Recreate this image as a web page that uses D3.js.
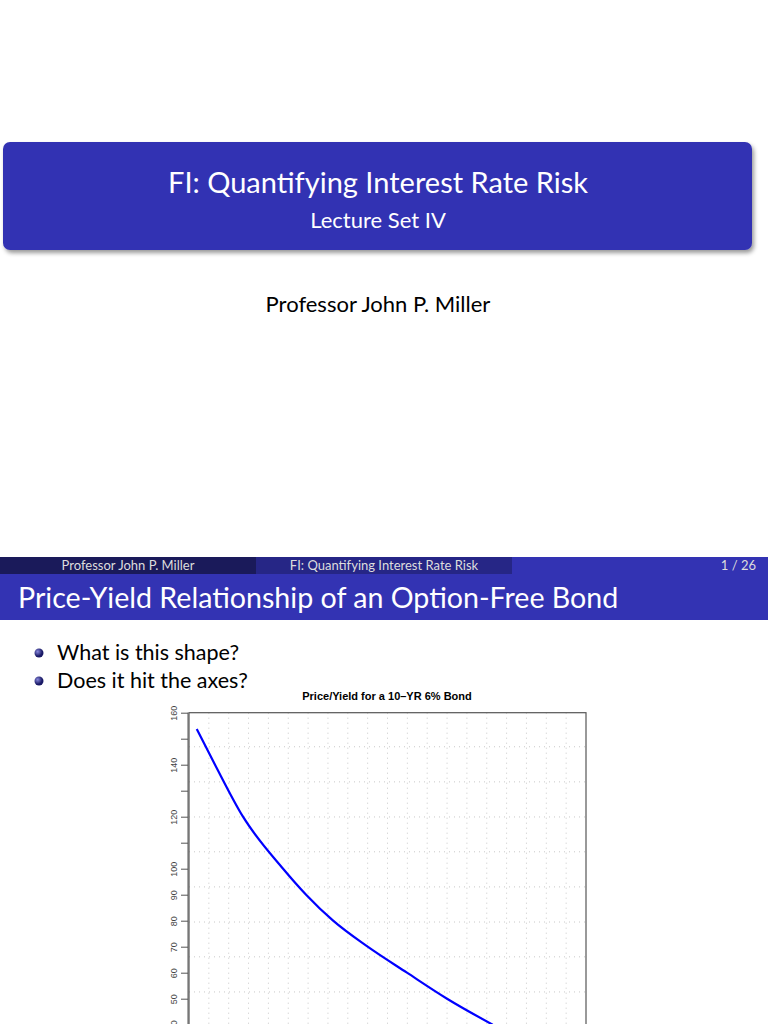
<!DOCTYPE html>
<html><head><meta charset="utf-8">
<script src="https://cdn.jsdelivr.net/npm/d3@7"></script>
<style>body{margin:0;background:#fff}svg{display:block}</style>
</head><body>
<script>
// yield (%) vs price readings
const yields = [0.39, 1.31, 2.72, 4.74, 5.90, 7.26, 9.00, 10.98, 13.00, 15.30];
const prices = [153.7, 140, 120, 100, 90, 80, 70, 60, 50, 40];
const yTicks = [40, 50, 60, 70, 80, 90, 100, 110, 120, 130, 140, 150, 160];
const yLabels = [40, 50, 60, 70, 80, 90, 100, 120, 140, 160];
const gridX = [1, 2, 3, 4, 5, 6, 7, 8, 9, 10, 11, 12, 13, 14, 15, 16, 17, 18, 19];
const gridY = [146.9, 133.4, 119.9, 106.5, 93.0, 79.5, 66.1, 52.6, 39.1];

const svg = d3.select("body").append("svg").attr("width", 768).attr("height", 1024);
const font = "Lato, 'Open Sans', sans-serif";
const blue = "#3333b3";

// title slide
const defs = svg.append("defs");
const f = defs.append("filter").attr("id", "sh").attr("x", "-5%").attr("y", "-20%").attr("width", "110%").attr("height", "150%");
f.append("feDropShadow").attr("dx", 2).attr("dy", 3).attr("stdDeviation", 2).attr("flood-opacity", 0.4);
svg.append("rect").attr("x", 3).attr("y", 142).attr("width", 749).attr("height", 108).attr("rx", 7)
  .attr("fill", blue).attr("filter", "url(#sh)");
svg.append("text").attr("x", 378).attr("y", 193).attr("text-anchor", "middle").attr("fill", "#fff")
  .style("font", `29px ${font}`).text("FI: Quantifying Interest Rate Risk");
svg.append("text").attr("x", 378).attr("y", 228).attr("text-anchor", "middle").attr("fill", "#fff")
  .style("font", `22px ${font}`).text("Lecture Set IV");
svg.append("text").attr("x", 378).attr("y", 312).attr("text-anchor", "middle").attr("fill", "#000")
  .style("font", `22px ${font}`).text("Professor John P. Miller");

// footer
[[0, 256, "#1a1a5a"], [256, 256, "#262686"], [512, 256, blue]].forEach(([x, w, c]) =>
  svg.append("rect").attr("x", x).attr("y", 557).attr("width", w).attr("height", 17).attr("fill", c));
const ft = (x, a, t) => svg.append("text").attr("x", x).attr("y", 569.5).attr("text-anchor", a)
  .attr("fill", "#ddd").style("font", `13px ${font}`).text(t);
ft(128, "middle", "Professor John P. Miller");
ft(384, "middle", "FI: Quantifying Interest Rate Risk");
ft(756, "end", "1 / 26");

// frame title
svg.append("rect").attr("x", 0).attr("y", 574).attr("width", 768).attr("height", 46).attr("fill", blue);
svg.append("text").attr("x", 18).attr("y", 608).attr("fill", "#fff").style("font", `28.6px ${font}`)
  .text("Price-Yield Relationship of an Option-Free Bond");

// bullets
const grad = defs.append("radialGradient").attr("id", "ball").attr("cx", "35%").attr("cy", "35%");
grad.append("stop").attr("offset", "0%").attr("stop-color", "#8888dd");
grad.append("stop").attr("offset", "100%").attr("stop-color", "#1a1a66");
[["What is this shape?", 660], ["Does it hit the axes?", 688]].forEach(([t, y]) => {
  svg.append("circle").attr("cx", 39).attr("cy", y - 7).attr("r", 4.5).attr("fill", "url(#ball)");
  svg.append("text").attr("x", 57).attr("y", y).attr("fill", "#000").style("font", `21.5px ${font}`).text(t);
});

// chart
const x = d3.scaleLinear().domain([0, 20]).range([189, 586]);
const y = d3.scaleLinear().domain([20, 160]).range([1076.7, 712.7]);
svg.append("text").attr("x", 387).attr("y", 700).attr("text-anchor", "middle").attr("fill", "#000")
  .style("font", "bold 11px 'Liberation Sans', Arial, sans-serif").text("Price/Yield for a 10\u2013YR 6% Bond");

const g = svg.append("g");
g.selectAll(".gx").data(gridX).join("line").attr("x1", d => x(d)).attr("x2", d => x(d))
  .attr("y1", y(160)).attr("y2", 1024).attr("stroke", "#c8c8c8").attr("stroke-dasharray", "1,4");
g.selectAll(".gy").data(gridY).join("line").attr("x1", x(0)).attr("x2", x(20))
  .attr("y1", d => y(d)).attr("y2", d => y(d)).attr("stroke", "#c8c8c8").attr("stroke-dasharray", "1,4");

const ax = svg.append("g").attr("transform", `translate(${x(0) - 1},0)`)
  .call(d3.axisLeft(y).tickValues(yTicks).tickSize(7).tickFormat(d => yLabels.includes(d) ? d : ""));
ax.select(".domain").attr("stroke", "#555").attr("d", `M0,${y(160)}V1030`);
ax.selectAll(".tick line").attr("stroke", "#555");
ax.selectAll(".tick text").attr("transform", "rotate(-90)").attr("x", 0).attr("dy", 0)
  .attr("y", -11).attr("text-anchor", "middle").attr("fill", "#444")
  .style("font", "9px 'Liberation Sans', Arial, sans-serif");

svg.append("rect").attr("x", x(0)).attr("y", y(160)).attr("width", x(20) - x(0)).attr("height", 400)
  .attr("fill", "none").attr("stroke", "#555").attr("stroke-width", 1.2);

svg.append("path").datum(d3.zip(yields, prices))
  .attr("d", d3.line().x(d => x(d[0])).y(d => y(d[1])).curve(d3.curveMonotoneX))
  .attr("fill", "none").attr("stroke", "#0000ff").attr("stroke-width", 2.2);
</script>
</body></html>
